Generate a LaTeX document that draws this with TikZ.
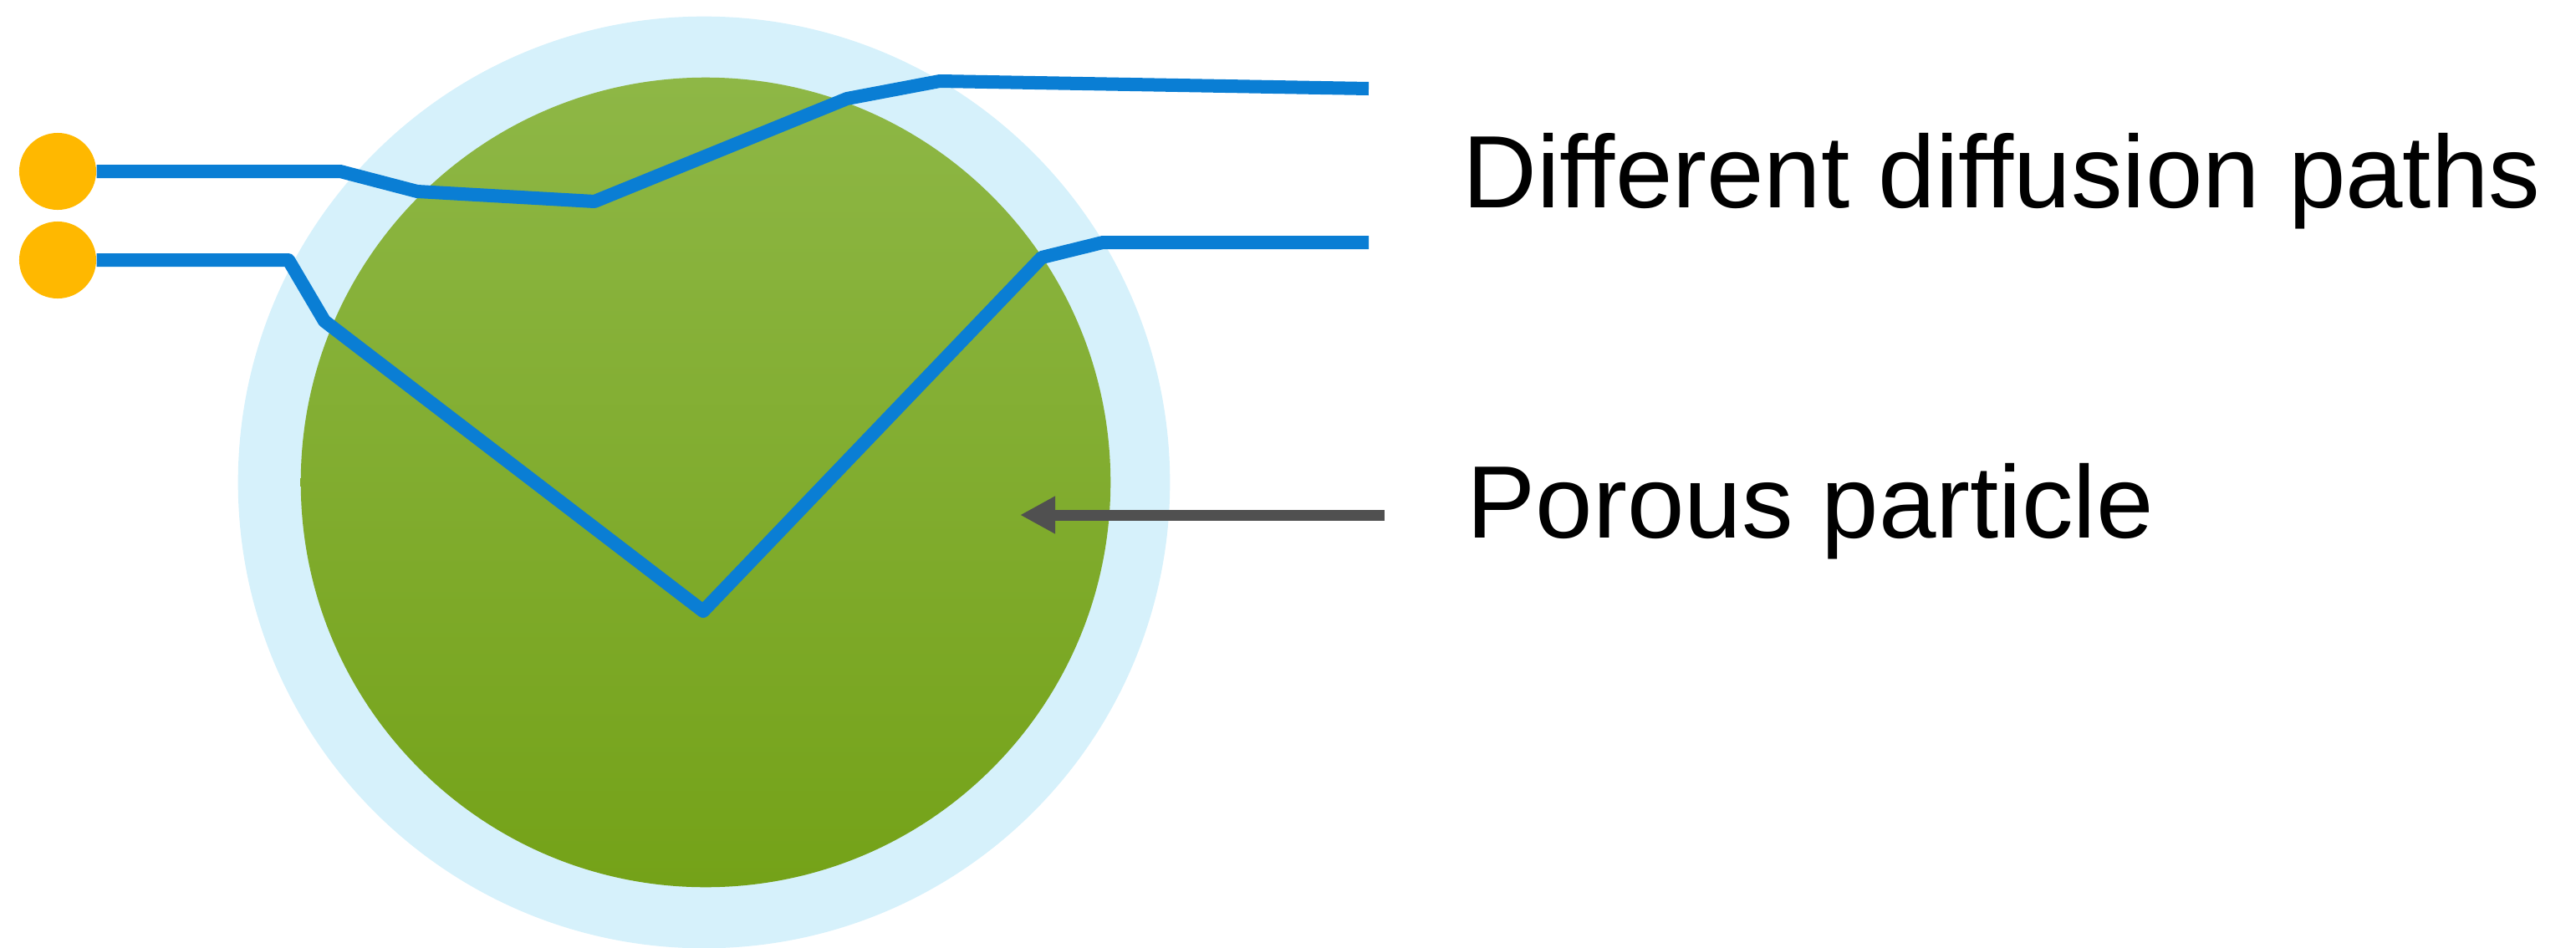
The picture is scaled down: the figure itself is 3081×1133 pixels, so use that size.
\documentclass[tikz,border=0pt]{standalone}
\usepackage{fontspec}
\setmainfont{Liberation Sans}
\usetikzlibrary{arrows.meta}

\definecolor{shellblue}{RGB}{214,241,251}
\definecolor{greentop}{RGB}{142,183,70}
\definecolor{greenbottom}{RGB}{116,162,24}
\definecolor{pathblue}{RGB}{10,126,212}
\definecolor{dotorange}{RGB}{255,184,0}
\definecolor{arrowgray}{RGB}{80,80,80}

\begin{document}
\begin{tikzpicture}[x=0.01cm,y=-0.01cm]
	\tikzstyle{dotnode}=[circle,fill=dotorange,inner sep=0pt,minimum size=0.92cm]
	\tikzstyle{pathline}=[draw=pathblue,line width=0.16cm,line join=round]
	\tikzstyle{textlabel}=[inner sep=0pt,anchor=base west,font=\fontsize{35}{42}\selectfont]
	\tikzstyle{pointer}=[draw=arrowgray,line width=0.13cm,-{Triangle[length=0.42cm,width=0.42cm]}]

	\useasboundingbox (0,0) rectangle (3081,1133);

	% particle with its shell
	\fill[shellblue] (842,577) circle [radius=5.57cm];
	\shade[top color=greentop,bottom color=greenbottom] (844,577) circle [radius=4.84cm];

	\node[dotnode] (dotA) at (69,205) {};
	\node[dotnode] (dotB) at (69,311) {};
	\coordinate (endA) at (1637,106);
	\coordinate (endB) at (1637,290);

	\draw[pathline] (dotA) -- (407,205) -- (499,229) -- (711,241) -- (1013,118) -- (1124,97) -- (endA);
	\draw[pathline] (dotB) -- (345,311) -- (388,384) -- (841,731) -- (1246,308) -- (1319,290) -- (endB);

	\node[textlabel] (paths) at (1749,248) {Different diffusion paths};
	\node[textlabel] (porous) at (1754,643) {Porous particle};

	\coordinate (tail) at (1656,616);
	\coordinate (tip) at (1220,616);
	\draw[pointer] (tail) -- (tip);
\end{tikzpicture}
\end{document}
